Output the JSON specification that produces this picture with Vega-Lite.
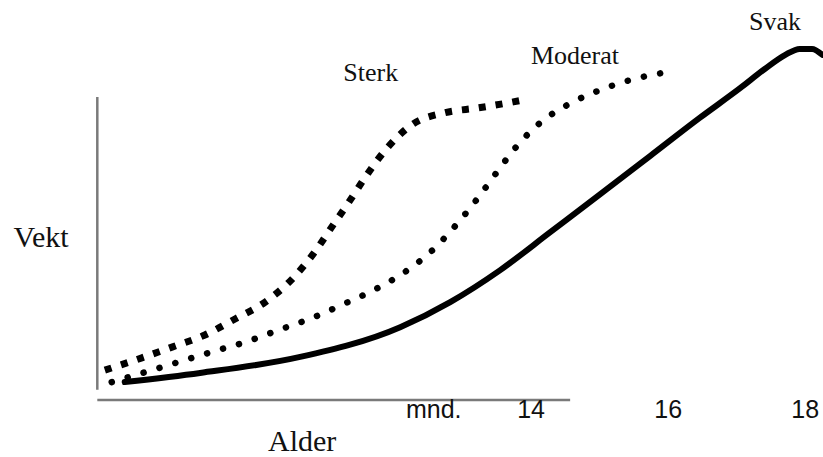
{
  "$schema": "https://vega.github.io/schema/vega-lite/v6.json",
  "autosize": {"type": "fit", "contains": "padding"},
  "width": 823,
  "height": 457,
  "padding": 0,
  "background": "white",
  "config": {"view": {"stroke": null}},
  "datasets": {
    "curves": [
      {"series": "Sterk", "month": 7.78, "weight": 1.90},
      {"series": "Sterk", "month": 8.32, "weight": 2.17},
      {"series": "Sterk", "month": 8.77, "weight": 2.41},
      {"series": "Sterk", "month": 9.24, "weight": 2.67},
      {"series": "Sterk", "month": 9.68, "weight": 3.02},
      {"series": "Sterk", "month": 10.12, "weight": 3.39},
      {"series": "Sterk", "month": 10.53, "weight": 3.92},
      {"series": "Sterk", "month": 10.83, "weight": 4.46},
      {"series": "Sterk", "month": 11.09, "weight": 5.03},
      {"series": "Sterk", "month": 11.36, "weight": 5.62},
      {"series": "Sterk", "month": 11.62, "weight": 6.21},
      {"series": "Sterk", "month": 11.91, "weight": 6.78},
      {"series": "Sterk", "month": 12.28, "weight": 7.29},
      {"series": "Sterk", "month": 12.73, "weight": 7.53},
      {"series": "Sterk", "month": 13.23, "weight": 7.64},
      {"series": "Sterk", "month": 13.74, "weight": 7.77},
      {"series": "Sterk", "month": 13.94, "weight": 7.83},
      {"series": "Moderat", "month": 7.88, "weight": 1.64},
      {"series": "Moderat", "month": 8.38, "weight": 1.86},
      {"series": "Moderat", "month": 8.86, "weight": 2.08},
      {"series": "Moderat", "month": 9.34, "weight": 2.30},
      {"series": "Moderat", "month": 9.84, "weight": 2.52},
      {"series": "Moderat", "month": 10.32, "weight": 2.78},
      {"series": "Moderat", "month": 10.80, "weight": 3.04},
      {"series": "Moderat", "month": 11.27, "weight": 3.35},
      {"series": "Moderat", "month": 11.74, "weight": 3.68},
      {"series": "Moderat", "month": 12.16, "weight": 4.05},
      {"series": "Moderat", "month": 12.55, "weight": 4.51},
      {"series": "Moderat", "month": 12.89, "weight": 5.05},
      {"series": "Moderat", "month": 13.20, "weight": 5.62},
      {"series": "Moderat", "month": 13.49, "weight": 6.21},
      {"series": "Moderat", "month": 13.78, "weight": 6.78},
      {"series": "Moderat", "month": 14.13, "weight": 7.31},
      {"series": "Moderat", "month": 14.55, "weight": 7.72},
      {"series": "Moderat", "month": 15.01, "weight": 8.03},
      {"series": "Moderat", "month": 15.50, "weight": 8.27},
      {"series": "Moderat", "month": 15.98, "weight": 8.42},
      {"series": "Svak", "month": 8.07, "weight": 1.64},
      {"series": "Svak", "month": 9.17, "weight": 1.84},
      {"series": "Svak", "month": 10.63, "weight": 2.19},
      {"series": "Svak", "month": 12.09, "weight": 2.84},
      {"series": "Svak", "month": 12.82, "weight": 3.39},
      {"series": "Svak", "month": 13.55, "weight": 4.09},
      {"series": "Svak", "month": 14.28, "weight": 4.92},
      {"series": "Svak", "month": 15.01, "weight": 5.75},
      {"series": "Svak", "month": 15.74, "weight": 6.59},
      {"series": "Svak", "month": 16.46, "weight": 7.42},
      {"series": "Svak", "month": 17.05, "weight": 8.07},
      {"series": "Svak", "month": 17.41, "weight": 8.49},
      {"series": "Svak", "month": 17.71, "weight": 8.80},
      {"series": "Svak", "month": 17.92, "weight": 8.93},
      {"series": "Svak", "month": 18.10, "weight": 8.93},
      {"series": "Svak", "month": 18.25, "weight": 8.80}
    ],
    "axisV": [{"month": 7.67, "weight": 1.47, "weight2": 7.88}],
    "axisH": [{"month": 7.67, "month2": 14.57, "weight": 1.25}],
    "labels": [
      {"kind": "curve", "text": "Sterk", "month": 11.66, "weight": 8.40},
      {"kind": "curve", "text": "Moderat", "month": 14.64, "weight": 8.77},
      {"kind": "curve", "text": "Svak", "month": 17.56, "weight": 9.52},
      {"kind": "title", "text": "Alder", "month": 10.66, "weight": 0.33},
      {"kind": "title", "text": "Vekt", "month": 6.85, "weight": 4.79},
      {"kind": "tick", "text": "mnd.", "month": 12.58, "weight": 1.03},
      {"kind": "tick", "text": "14", "month": 14, "weight": 1.03},
      {"kind": "tick", "text": "16", "month": 16, "weight": 1.03},
      {"kind": "tick", "text": "18", "month": 18, "weight": 1.03}
    ]
  },
  "encoding": {
    "x": {"field": "month", "type": "quantitative", "axis": null, "scale": {"domain": [6.25, 18.26], "nice": false, "zero": false}},
    "y": {"field": "weight", "type": "quantitative", "axis": null, "scale": {"domain": [0, 10], "nice": false, "zero": false}}
  },
  "layer": [
    {
      "data": {"name": "axisV"},
      "mark": {"type": "rule", "color": "#7a7a7a", "strokeWidth": 2.5},
      "encoding": {"y2": {"field": "weight2"}}
    },
    {
      "data": {"name": "axisH"},
      "mark": {"type": "rule", "color": "#7a7a7a", "strokeWidth": 2.5},
      "encoding": {"x2": {"field": "month2"}}
    },
    {
      "data": {"name": "curves"},
      "transform": [{"filter": "datum.series === 'Svak'"}],
      "mark": {"type": "line", "color": "black", "strokeWidth": 6, "interpolate": "monotone", "strokeCap": "round", "clip": true},
      "encoding": {"order": {"field": "month", "type": "quantitative"}}
    },
    {
      "data": {"name": "curves"},
      "transform": [{"filter": "datum.series === 'Moderat'"}],
      "mark": {"type": "line", "color": "black", "strokeWidth": 6.5, "interpolate": "monotone", "strokeCap": "round", "strokeDash": [0.1, 16.5]},
      "encoding": {"order": {"field": "month", "type": "quantitative"}}
    },
    {
      "data": {"name": "curves"},
      "transform": [{"filter": "datum.series === 'Sterk'"}],
      "mark": {"type": "line", "color": "black", "strokeWidth": 7, "interpolate": "monotone", "strokeCap": "butt", "strokeDash": [7, 10]},
      "encoding": {"order": {"field": "month", "type": "quantitative"}}
    },
    {
      "data": {"name": "labels"},
      "transform": [{"filter": "datum.kind === 'curve'"}],
      "mark": {"type": "text", "font": "Liberation Serif", "fontSize": 26, "color": "#111111", "align": "center", "baseline": "middle"},
      "encoding": {"text": {"field": "text"}}
    },
    {
      "data": {"name": "labels"},
      "transform": [{"filter": "datum.kind === 'title'"}],
      "mark": {"type": "text", "font": "Liberation Serif", "fontSize": 30, "color": "#111111", "align": "center", "baseline": "middle"},
      "encoding": {"text": {"field": "text"}}
    },
    {
      "data": {"name": "labels"},
      "transform": [{"filter": "datum.kind === 'tick'"}],
      "mark": {"type": "text", "font": "Liberation Sans", "fontSize": 25, "color": "#111111", "align": "center", "baseline": "middle"},
      "encoding": {"text": {"field": "text"}}
    }
  ]
}
